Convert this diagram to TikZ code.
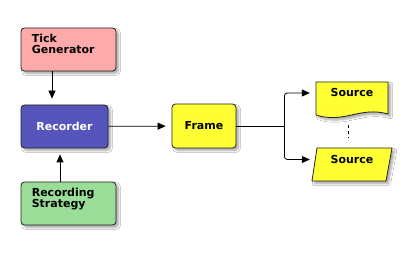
\documentclass[tikz,border=0pt]{standalone}
\usepackage{fontspec}
\setmainfont{DejaVu Sans}
\usetikzlibrary{arrows.meta,shadows.blur,backgrounds,calc}
\definecolor{tickfill}{HTML}{FFAAAA}
\definecolor{recfill}{HTML}{5555BB}
\definecolor{stratfill}{HTML}{99DD99}
\definecolor{srcfill}{HTML}{FFFF33}
\definecolor{edgecol}{HTML}{222222}
\tikzset{
  softshadow/.style={blur shadow={shadow xshift=2.5pt,shadow yshift=-2.5pt,shadow blur steps=6,shadow opacity=35}},
  box/.style={draw=edgecol, line width=0.8pt, rounded corners=3.5pt,
    minimum width=#1, minimum height=43pt, inner sep=0pt, softshadow,
    font=\bfseries\fontsize{11}{11}\selectfont},
  txt/.style={font=\bfseries\fontsize{11}{11}\selectfont, inner sep=0pt, align=left},
  link/.style={draw=black, line width=0.8pt, -{Triangle[length=8pt,width=7pt]}, shorten >=6pt},
  plain/.style={draw=black, line width=0.8pt},
  outline/.style={draw=edgecol, line width=0.8pt, fill=srcfill, softshadow},
}
\begin{document}
\begin{tikzpicture}[x=1pt,y=-1pt]
  \useasboundingbox (0,0) rectangle (408,253);

  % left column
  \node[box=95pt, fill=tickfill] (tick) at (68.5,49.5) {};
  \node[txt, anchor=north west] (ticktext) at ([xshift=11pt,yshift=-6.5pt]tick.north west) {Tick\\Generator};

  \node[box=87pt, fill=recfill, text=white] (rec) at (64.5,126.5) {Recorder};

  \node[box=95pt, fill=stratfill] (strat) at (68.5,203.5) {};
  \node[txt, anchor=north west] (strattext) at ([xshift=11pt,yshift=-6.5pt]strat.north west) {Recording\\Strategy};

  % frame
  \node[box=64pt, minimum height=44pt, fill=srcfill] (frame) at (204,126) {Frame};

  % sources
  \node[txt, minimum width=72pt, minimum height=22pt] (src1) at (352,93) {Source};
  \node[txt, minimum width=72pt, minimum height=22pt] (src2) at (352,159.5) {Source};

  \begin{scope}[on background layer]
    \fill[white] (0,0) rectangle (408,253);
    \path[outline] (316,82) -- (388,82) -- (388,114)
      .. controls (360,106) and (344,124) .. (316,115) -- cycle;
    \path[outline] (317,148) -- (392,148) -- (386,181) -- (312,181) -- cycle;
  \end{scope}

  % connectors
  \draw[link] ([xshift=-16.5pt]tick.south) -- ([xshift=-16.5pt]tick.south |- rec.north);
  \draw[link] ([xshift=-8.5pt]strat.north) -- ([xshift=-8.5pt]strat.north |- rec.south);
  \draw[link] (rec) -- (frame);
  \draw[plain] (frame.east) -- ++(48,0) coordinate (fork);
  \draw[link, rounded corners=3pt] (fork) |- (src1.west);
  \draw[link, rounded corners=3pt] (fork) |- (src2.west);
  \draw[plain, dash pattern=on 3pt off 3pt] ($(src1.south)+(-4,21)$) -- ($(src2.north)+(-4,-10.5)$);
\end{tikzpicture}
\end{document}
